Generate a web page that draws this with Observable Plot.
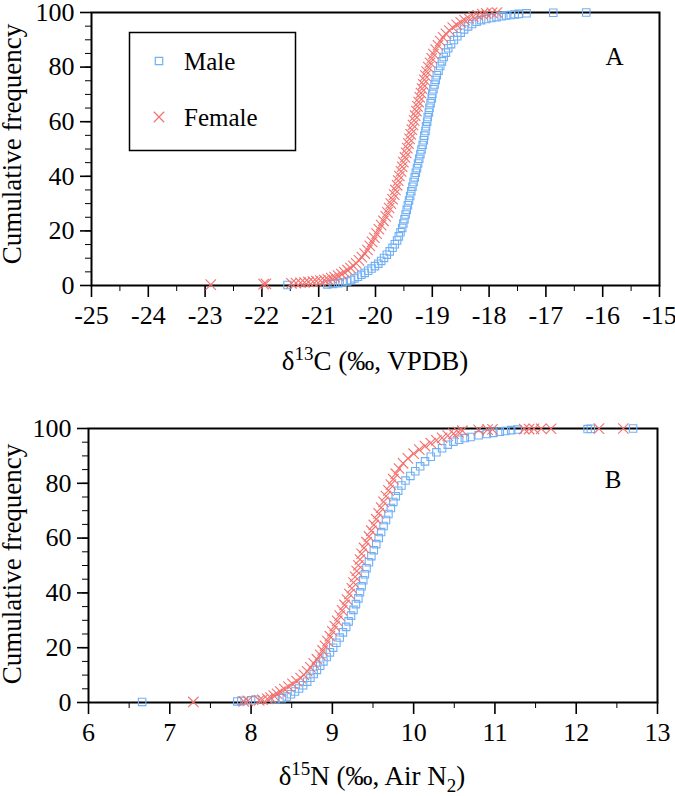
<!DOCTYPE html>
<html>
<head>
<meta charset="utf-8">
<script src="https://cdn.jsdelivr.net/npm/d3@7"></script>
<script src="https://cdn.jsdelivr.net/npm/@observablehq/plot@0.6"></script>
<style>
  html, body { margin: 0; padding: 0; background: #fff; }
  #wrap { position: relative; width: 675px; height: 796px; overflow: hidden; background: #fff; }
  #wrap > svg { position: absolute; }
  #wrap svg, #wrap svg text { font-family: "Liberation Serif", "Times New Roman", serif !important; }
</style>
</head>
<body>
<div id="wrap"></div>
<script>
// ---------- data: [value (‰), cumulative frequency (%)] ----------
const maleC = [
  [-21.55,0.2],[-20.85,0.4],[-20.75,0.6],[-20.66,0.8],[-20.58,1.1],[-20.50,1.5],[-20.43,2.0],[-20.37,2.6],
  [-20.31,3.2],[-20.25,3.9],[-20.19,4.6],[-20.13,5.4],[-20.07,6.2],[-20.01,7.1],[-19.95,8.0],[-19.90,9.0],
  [-19.85,10.1],[-19.80,11.3],[-19.75,12.5],[-19.70,13.8],[-19.66,15.1],[-19.62,16.5],[-19.59,18.0],[-19.56,19.5],
  [-19.53,21.1],[-19.51,22.7],[-19.49,24.3],[-19.47,26.0],[-19.45,27.7],[-19.43,29.4],[-19.41,31.1],[-19.39,32.8],
  [-19.37,34.5],[-19.35,36.2],[-19.33,37.9],[-19.31,39.6],[-19.29,41.3],[-19.27,43.0],[-19.25,44.7],[-19.23,46.4],
  [-19.21,48.1],[-19.19,49.8],[-19.17,51.5],[-19.15,53.2],[-19.14,54.9],[-19.12,56.6],[-19.11,58.3],[-19.09,60.0],
  [-19.08,61.7],[-19.06,63.4],[-19.05,65.1],[-19.03,66.8],[-19.01,68.5],[-19.00,70.2],[-18.98,71.9],[-18.96,73.6],
  [-18.94,75.3],[-18.92,77.0],[-18.89,78.7],[-18.86,80.4],[-18.83,82.1],[-18.80,83.7],[-18.76,85.3],[-18.72,86.9],
  [-18.67,88.4],[-18.62,89.9],[-18.56,91.3],[-18.50,92.6],[-18.44,93.8],[-18.37,94.9],[-18.30,95.8],[-18.22,96.6],
  [-18.14,97.2],[-18.05,97.6],[-17.96,98.0],[-17.87,98.3],[-17.78,98.6],[-17.70,98.9],[-17.62,99.1],[-17.55,99.3],
  [-17.48,99.5],[-17.34,99.7],[-16.87,99.9],[-16.29,100]
];
const femaleC = [
  [-22.90,0.3],[-21.97,0.5],[-21.93,0.6],[-21.48,0.8],[-21.40,0.9],[-21.32,1.0],[-21.25,1.1],[-21.18,1.3],
  [-21.10,1.4],[-21.04,1.6],[-20.97,1.8],[-20.90,2.0],[-20.84,2.3],[-20.78,2.7],[-20.72,3.1],[-20.66,3.6],
  [-20.60,4.2],[-20.55,4.9],[-20.49,5.6],[-20.44,6.4],[-20.39,7.2],[-20.34,8.1],[-20.29,9.2],[-20.24,10.4],
  [-20.19,11.7],[-20.14,13.0],[-20.10,14.5],[-20.06,16.0],[-20.02,17.5],[-19.98,19.0],[-19.94,20.6],[-19.90,22.1],
  [-19.86,23.7],[-19.82,25.3],[-19.79,26.8],[-19.76,28.4],[-19.73,30.0],[-19.70,31.6],[-19.67,33.3],[-19.65,35.0],
  [-19.62,36.7],[-19.60,38.4],[-19.58,40.1],[-19.55,41.8],[-19.53,43.5],[-19.51,45.2],[-19.48,46.9],[-19.46,48.6],
  [-19.44,50.3],[-19.42,52.0],[-19.40,53.7],[-19.38,55.4],[-19.36,57.1],[-19.34,58.8],[-19.32,60.5],[-19.30,62.2],
  [-19.28,63.9],[-19.26,65.6],[-19.24,67.2],[-19.22,68.9],[-19.20,70.5],[-19.18,72.1],[-19.16,73.7],[-19.14,75.3],
  [-19.12,76.9],[-19.10,78.4],[-19.07,80.0],[-19.04,81.6],[-19.01,83.2],[-18.98,84.8],[-18.94,86.4],[-18.90,88.0],
  [-18.86,89.5],[-18.81,90.9],[-18.76,92.2],[-18.70,93.4],[-18.64,94.5],[-18.57,95.5],[-18.50,96.4],[-18.43,97.2],
  [-18.36,97.9],[-18.28,98.5],[-18.20,99.0],[-18.12,99.4],[-18.05,99.7],[-17.95,99.9],[-17.86,100]
];
const maleN = [
  [6.66,0.2],[7.83,0.4],[7.88,0.6],[8.00,0.8],[8.05,1.0],[8.30,1.2],[8.38,1.6],[8.44,2.2],
  [8.49,3.0],[8.54,4.0],[8.59,5.1],[8.64,6.3],[8.69,7.6],[8.73,9.0],[8.77,10.4],[8.81,11.9],
  [8.85,13.4],[8.89,15.0],[8.93,16.6],[8.97,18.3],[9.01,20.0],[9.05,21.8],[9.09,23.7],[9.13,25.6],
  [9.17,27.6],[9.20,29.6],[9.23,31.7],[9.26,33.8],[9.29,35.9],[9.32,38.0],[9.34,40.2],[9.36,42.4],
  [9.38,44.6],[9.40,46.8],[9.42,49.0],[9.45,51.2],[9.48,53.4],[9.51,55.6],[9.54,57.8],[9.57,60.0],
  [9.60,62.2],[9.63,64.4],[9.66,66.6],[9.69,68.8],[9.72,71.0],[9.75,73.2],[9.78,75.3],[9.81,77.3],
  [9.85,79.2],[9.90,81.0],[9.96,82.7],[10.02,84.4],[10.08,86.2],[10.14,88.0],[10.21,89.7],[10.28,91.3],
  [10.35,92.8],[10.42,94.1],[10.49,95.2],[10.56,95.9],[10.63,96.5],[10.70,96.9],[10.80,97.5],[10.90,98.0],
  [10.98,98.4],[11.06,98.8],[11.13,99.1],[11.20,99.4],[11.28,99.6],[12.14,99.8],[12.18,99.9],[12.70,100]
];
const femaleN = [
  [7.29,0.2],[7.91,0.4],[7.96,0.6],[8.10,0.8],[8.14,1.0],[8.20,1.3],[8.24,1.8],[8.28,2.5],
  [8.32,3.2],[8.36,4.0],[8.41,4.9],[8.46,5.8],[8.51,6.8],[8.56,7.8],[8.61,8.9],[8.65,10.1],
  [8.69,11.4],[8.73,12.8],[8.77,14.3],[8.81,15.8],[8.85,17.4],[8.88,19.0],[8.91,20.7],[8.94,22.4],
  [8.97,24.2],[9.00,26.0],[9.03,27.9],[9.06,29.8],[9.09,31.7],[9.12,33.6],[9.15,35.6],[9.18,37.6],
  [9.21,39.6],[9.24,41.7],[9.26,43.8],[9.28,45.9],[9.30,48.0],[9.32,50.1],[9.34,52.2],[9.36,54.3],
  [9.39,56.4],[9.42,58.5],[9.45,60.6],[9.48,62.7],[9.51,64.8],[9.54,66.9],[9.57,69.0],[9.60,71.1],
  [9.63,73.2],[9.66,75.3],[9.69,77.4],[9.72,79.5],[9.75,81.5],[9.78,83.5],[9.82,85.4],[9.87,87.3],
  [9.93,89.1],[10.00,90.8],[10.07,92.3],[10.14,93.6],[10.21,94.7],[10.28,95.7],[10.35,96.6],[10.42,97.4],
  [10.49,98.1],[10.55,98.7],[10.60,99.2],[10.80,99.5],[10.91,99.6],[10.97,99.7],[11.36,99.8],[11.42,99.8],
  [11.48,99.85],[11.57,99.9],[11.69,99.9],[12.28,99.95],[12.58,100]
];

// ---------- ticks & labels ----------
const yMajor = [0, 20, 40, 60, 80, 100];
const yMinor = [0, 5, 10, 15, 20, 25, 30, 35, 40, 45, 50, 55, 60, 65, 70, 75, 80, 85, 90, 95, 100];
const xMajorA = [-25, -24, -23, -22, -21, -20, -19, -18, -17, -16, -15];
const xMinorA = [-24.5, -23.5, -22.5, -21.5, -20.5, -19.5, -18.5, -17.5, -16.5, -15.5];
const xMajorB = [6, 7, 8, 9, 10, 11, 12, 13];
const xMinorB = [6.5, 7.5, 8.5, 9.5, 10.5, 11.5, 12.5];
const seriesNames = ["Male", "Female"];
const panelLetters = ["A", "B"];
const yTitle = "Cumulative frequency";

const BLUE = "rgb(112,176,245)";
const RED = "rgb(243,112,110)";
const FONT = "'Liberation Serif', 'Times New Roman', serif";

function panel(o) {
  return Plot.plot({
    width: 675, height: 330,
    marginLeft: o.ml, marginRight: o.mr, marginTop: o.mt, marginBottom: o.mb,
    x: {domain: o.xDomain},
    y: {domain: [0, 100]},
    style: {fontFamily: FONT, fontSize: "26px", color: "black", background: "transparent", overflow: "visible"},
    marks: [
      Plot.axisY(yMinor, {tickSize: 6, strokeWidth: 1, tickFormat: () => "", label: null}),
      Plot.axisY(yMajor, {tickSize: 11, tickPadding: 6, strokeWidth: 1.6, tickFormat: d => String(d), label: null, fontFamily: FONT}),
      Plot.axisX(o.xMinor, {tickSize: 6, strokeWidth: 1, tickFormat: () => "", label: null}),
      Plot.axisX(o.xMajor, {tickSize: 12, tickPadding: 8, strokeWidth: 1.6, tickFormat: d => String(d), label: null, fontFamily: FONT}),
      Plot.frame({stroke: "black", strokeWidth: 2}),
      Plot.dot(o.male, {x: d => d[0], y: d => d[1], symbol: "square", r: 4.2, stroke: BLUE, fill: "none", strokeWidth: 1.1}),
      Plot.dot(o.female, {x: d => d[0], y: d => d[1], symbol: "times", r: 4.8, stroke: RED, fill: "none", strokeWidth: 1.1}),
      Plot.text([o.letter], {frameAnchor: "top-right", dx: -36, dy: o.letterDy, text: d => d,
        fontSize: 25, fontFamily: FONT, textAnchor: "end", lineAnchor: "top", fill: "black"})
    ]
  });
}

const wrap = document.getElementById("wrap");
const pA = panel({ml: 91, mr: 16, mt: 12, mb: 45, xDomain: [-25, -15], xMajor: xMajorA, xMinor: xMinorA,
  male: maleC, female: femaleC, letter: panelLetters[0], letterDy: 35});
pA.style.left = "0px"; pA.style.top = "0px";
wrap.appendChild(pA);
const pB = panel({ml: 88, mr: 18, mt: 28, mb: 28, xDomain: [6, 13], xMajor: xMajorB, xMinor: xMinorB,
  male: maleN, female: femaleN, letter: panelLetters[1], letterDy: 42});
pB.style.left = "0px"; pB.style.top = "400px";
wrap.appendChild(pB);

// ---------- overlay: titles and legend ----------
const ov = d3.create("svg").attr("width", 675).attr("height", 796)
  .style("left", "0px").style("top", "0px")
  .style("font-family", FONT).attr("fill", "black");

// y titles
[[21, 144], [21, 564]].forEach(([x, y]) => {
  ov.append("text").attr("transform", `translate(${x},${y}) rotate(-90)`)
    .attr("text-anchor", "middle").attr("font-size", 27).style("font-family", FONT).text(yTitle);
});

// x titles
const tA = ov.append("text").attr("x", 375).attr("y", 370).attr("text-anchor", "middle")
  .attr("font-size", 27).style("font-family", FONT);
tA.append("tspan").text("δ");
tA.append("tspan").attr("font-size", 19).attr("dy", -10).text("13");
tA.append("tspan").attr("dy", 10).text("C (‰, VPDB)");

const tB = ov.append("text").attr("x", 372).attr("y", 785).attr("text-anchor", "middle")
  .attr("font-size", 27).style("font-family", FONT);
tB.append("tspan").text("δ");
tB.append("tspan").attr("font-size", 19).attr("dy", -10).text("15");
tB.append("tspan").attr("dy", 10).text("N (‰, Air N");
tB.append("tspan").attr("font-size", 19).attr("dy", 7).text("2");
tB.append("tspan").attr("dy", -7).text(")");

// legend
const lg = ov.append("g");
lg.append("rect").attr("x", 129.5).attr("y", 32.5).attr("width", 166).attr("height", 118)
  .attr("fill", "white").attr("stroke", "black").attr("stroke-width", 1.5);
const symSq = d3.symbol(d3.symbolSquare, Math.PI * 4.2 * 4.2)();
const symX = d3.symbol(d3.symbolTimes, Math.PI * 4.8 * 4.8)();
lg.append("path").attr("d", symSq).attr("transform", "translate(159,61)")
  .attr("fill", "none").attr("stroke", BLUE).attr("stroke-width", 1.2);
lg.append("path").attr("d", symX).attr("transform", "translate(159,117)")
  .attr("fill", "none").attr("stroke", RED).attr("stroke-width", 1.2);
lg.append("text").attr("x", 184).attr("y", 70).attr("font-size", 25).style("font-family", FONT).text(seriesNames[0]);
lg.append("text").attr("x", 184).attr("y", 126).attr("font-size", 25).style("font-family", FONT).text(seriesNames[1]);

wrap.appendChild(ov.node());
</script>
</body>
</html>
